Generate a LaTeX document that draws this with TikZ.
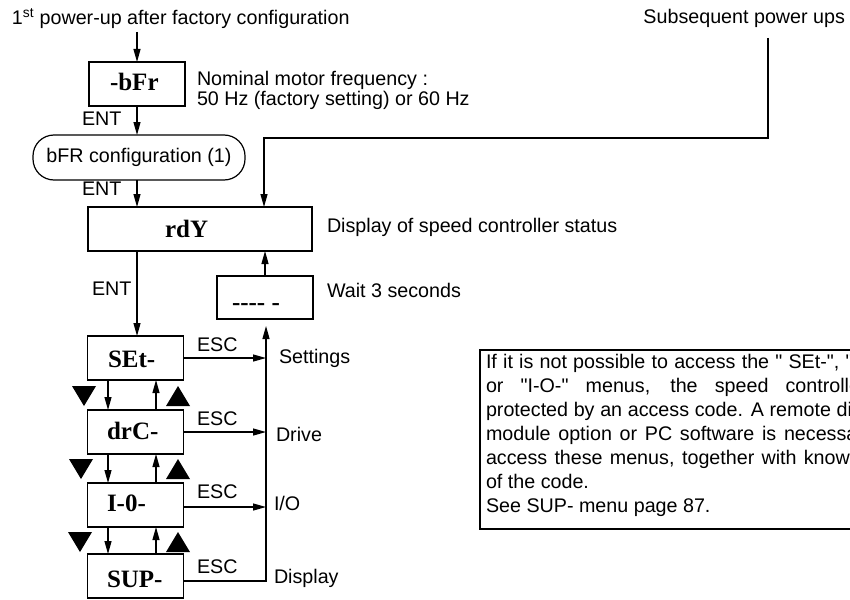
\documentclass[tikz,border=0pt]{standalone}
\usepackage{fontspec}
\newfontfamily\lsans{Liberation Sans}[Ligatures=ResetAll]
\newfontfamily\menufont{Liberation Serif}[Ligatures=ResetAll]
\usetikzlibrary{arrows.meta}
\begin{document}
\begin{tikzpicture}[x=1pt,y=-1pt,
  every node/.style={inner sep=0pt, outer sep=0pt},
  lbl/.style={font=\lsans\fontsize{19.7}{24}\selectfont, anchor=base west},
  mtext/.style={font=\menufont\bfseries\fontsize{25}{30}\selectfont, anchor=base west},
  box/.style={draw, line width=1.2pt, minimum width=96pt, minimum height=44pt},
  arr/.style={line width=1.2pt, -{Triangle[length=13pt,width=7pt]}},
  ln/.style={line width=1.2pt},
  tri/.style={fill=black}]
\useasboundingbox (0,0) rectangle (850,599);

% boxes
\node[box] (bfr) at (137,84) {};
\node[mtext] (bfrt) at (110,91) {-bFr};
\node[box, minimum width=212pt, minimum height=45pt, rounded corners=21pt,
      font=\lsans\fontsize{19.7}{24}\selectfont] (cap) at (139,157.5) {bFR configuration (1)};
\node[box, minimum width=224pt] (rdy) at (200,229) {};
\node[mtext] (rdyt) at (165,237) {rdY};
\node[box, minimum height=43pt] (wait) at (265,297.5) {};
\node[mtext] (waitt) at (232,310) {-\kern0pt-\kern0pt-\kern0pt- -};
\node[box] (set) at (135.5,358) {};
\node[mtext] (sett) at (108,367) {SEt-};
\node[box] (drc) at (135.5,432) {};
\node[mtext] (drct) at (107,439) {drC-};
\node[box] (io) at (135.5,505) {};
\node[mtext] (iot) at (107,511) {I-0-};
\node[box] (sup) at (135.5,576) {};
\node[mtext] (supt) at (107,587) {SUP-};

% labels
\node[lbl] (title) at (12,25) {1\textsuperscript{st} power-up after factory configuration};
\node[lbl, anchor=base east] (subs) at (845,23.5) {Subsequent power ups};
\node[lbl] (nom1) at (197,86) {Nominal motor frequency :};
\node[lbl] (nom2) at (197,106) {50 Hz (factory setting) or 60 Hz};
\node[lbl] (ent1) at (82,125) {ENT};
\node[lbl] (ent2) at (82,195) {ENT};
\node[lbl] (ent3) at (92,295) {ENT};
\node[lbl] (dstat) at (327,232) {Display of speed controller status};
\node[lbl] (wait3) at (327,297) {Wait 3 seconds};
\node[lbl] (esc1) at (197,351) {ESC};
\node[lbl] (esc2) at (197,425) {ESC};
\node[lbl] (esc3) at (197,498) {ESC};
\node[lbl] (esc4) at (197,573) {ESC};
\node[lbl] (settings) at (279,363) {Settings};
\node[lbl] (drive) at (276,441) {Drive};
\node[lbl] (iolbl) at (274,510) {I/O};
\node[lbl] (disp) at (274,583) {Display};

% note
\node[draw, line width=1.2pt, anchor=north west, minimum width=425pt, minimum height=179pt] (notebox) at (480,350) {};
\node[lbl, text width=412pt, align=justify] (note) at (486,368)
 {If it is not possible to access the " SEt-", "drC-"\linebreak
  or "I-O-" menus, the speed controller is\linebreak
  protected by an access code. A remote display\linebreak
  module option or PC software is necessary to\linebreak
  access these menus, together with knowledge\linebreak
  of the code.\\
  See SUP- menu page 87.};

% connectors
\coordinate (t0) at (137,32);
\draw[arr] (t0) -- (bfr.north);
\draw[arr] (bfr.south) -- (bfr.south |- cap.north);
\draw[arr] (cap.south -| bfr.south) -- (rdy.north -| bfr.south);
\coordinate (sp) at (768,38);
\coordinate (rx) at (264,138);
\draw[arr] (sp) |- (rx) -- (rx |- rdy.north);
\draw[arr] (rdy.south -| bfr.south) -- (set.north -| bfr.south);
\draw[arr] (wait.north) -- (wait.north |- rdy.south);

\draw[arr] ([xshift=-27.5pt]set.south) -- ([xshift=-27.5pt]drc.north);
\draw[arr] ([xshift=20.5pt]drc.north) -- ([xshift=20.5pt]set.south);
\draw[arr] ([xshift=-27.5pt]drc.south) -- ([xshift=-27.5pt]io.north);
\draw[arr] ([xshift=20.5pt]io.north) -- ([xshift=20.5pt]drc.south);
\draw[arr] ([xshift=-27.5pt]io.south) -- ([xshift=-27.5pt]sup.north);
\draw[arr] ([xshift=20.5pt]sup.north) -- ([xshift=20.5pt]io.south);

\coordinate (rl) at (266,326);
\draw[arr] (set.east) -- (set.east -| rl);
\draw[arr] (drc.east) -- (drc.east -| rl);
\draw[arr] ([yshift=-2pt]io.east) -- ([yshift=-2pt]io.east -| rl);
\draw[arr] ([yshift=-5pt]sup.east) -| (rl);

% triangles
\fill[tri] (72,386) -- (96,386) -- (84,406) -- cycle;
\fill[tri] (69,459) -- (93,459) -- (81,479) -- cycle;
\fill[tri] (68,532) -- (92,532) -- (80,552) -- cycle;
\fill[tri] (166,406) -- (190,406) -- (178,386) -- cycle;
\fill[tri] (166,479) -- (190,479) -- (178,459) -- cycle;
\fill[tri] (166,552) -- (190,552) -- (178,532) -- cycle;
\end{tikzpicture}
\end{document}
